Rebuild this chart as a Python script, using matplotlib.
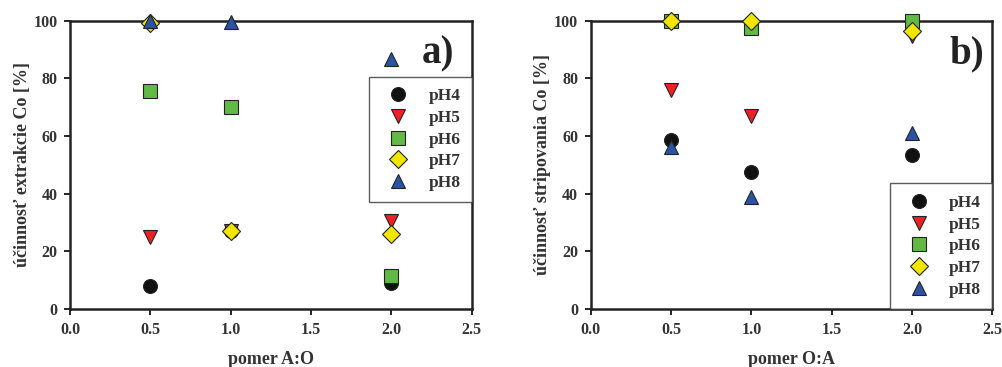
import matplotlib
matplotlib.use("Agg")
import matplotlib.pyplot as plt

# datos
pomer = [0.5, 1.0, 2.0]
ph_labels = ['pH4', 'pH5', 'pH6', 'pH7', 'pH8']

extrakcia = {
    'pH4': [8, 27, 9],
    'pH5': [25, 27, 30.5],
    'pH6': [75.5, 70, 11.5],
    'pH7': [99, 27, 26],
    'pH8': [100, 99.5, 86.5],
}
stripovanie = {
    'pH4': [58.5, 47.5, 53.5],
    'pH5': [76, 67, 94.5],
    'pH6': [100, 97.5, 100],
    'pH7': [100, 100, 96.5],
    'pH8': [56, 39, 61],
}

markers = ['o', 'v', 's', 'D', '^']
colors = ['#111111', '#ee2024', '#62b946', '#f2e600', '#2b53a3']
sizes = [10, 10, 9.5, 9, 10]

plt.rcParams['font.family'] = ['Liberation Serif', 'DejaVu Serif']
plt.rcParams['font.weight'] = 'bold'


def graficar(ax, datos, xlabel, ylabel, letra, letra_pos, leg_loc, leg_anchor):
    for lab, m, c, ms in zip(ph_labels, markers, colors, sizes):
        ax.plot(pomer, datos[lab], linestyle='none', marker=m, color=c,
                markersize=ms, markeredgecolor='#222222', markeredgewidth=0.8,
                label=lab, clip_on=False, zorder=3)
    ax.set_xlim(0, 2.5)
    ax.set_ylim(0, 100)
    ax.set_xticks([0.0, 0.5, 1.0, 1.5, 2.0, 2.5])
    ax.set_xticklabels(['0.0', '0.5', '1.0', '1.5', '2.0', '2.5'])
    ax.set_yticks([0, 20, 40, 60, 80, 100])
    ax.tick_params(direction='out', length=4, width=1.2, labelsize=11.5,
                   top=False, right=False, pad=5)
    for lbl in ax.get_xticklabels() + ax.get_yticklabels():
        lbl.set_fontweight('bold')
        lbl.set_color('#333333')
    for s in ax.spines.values():
        s.set_linewidth(1.8)
        s.set_color('#222222')
    ax.set_xlabel(xlabel, fontsize=13, fontweight='bold', color='#333333', labelpad=10)
    ax.set_ylabel(ylabel, fontsize=13, fontweight='bold', color='#333333', labelpad=2)
    ax.text(letra_pos[0], letra_pos[1], letra, fontsize=28, fontweight='bold',
            color='#222222', ha='center', va='center', transform=ax.transData)
    leg = ax.legend(loc=leg_loc, bbox_to_anchor=leg_anchor,
                    fontsize=12.5, frameon=True, fancybox=False, borderaxespad=0,
                    handlelength=2.0, handletextpad=0.75, labelspacing=0.32,
                    borderpad=0.65)
    leg.get_frame().set_edgecolor('#333333')
    leg.get_frame().set_linewidth(1.0)
    for t in leg.get_texts():
        t.set_fontweight('bold')
        t.set_color('#333333')


fig = plt.figure(figsize=(10.02, 3.67), dpi=100)
ax1 = fig.add_axes([0.0699, 0.158, 0.401, 0.786])
ax2 = fig.add_axes([0.5895, 0.158, 0.401, 0.786])

graficar(ax1, extrakcia, 'pomer A:O', 'účinnosť extrakcie Co [%]', 'a)',
         (2.29, 88.5), 'upper right', (1.0, 0.805))
graficar(ax2, stripovanie, 'pomer O:A', 'účinnosť stripovania Co [%]', 'b)',
         (2.34, 88.5), 'lower right', (1.0, 0.0))

fig.savefig('out.png', dpi=100)
